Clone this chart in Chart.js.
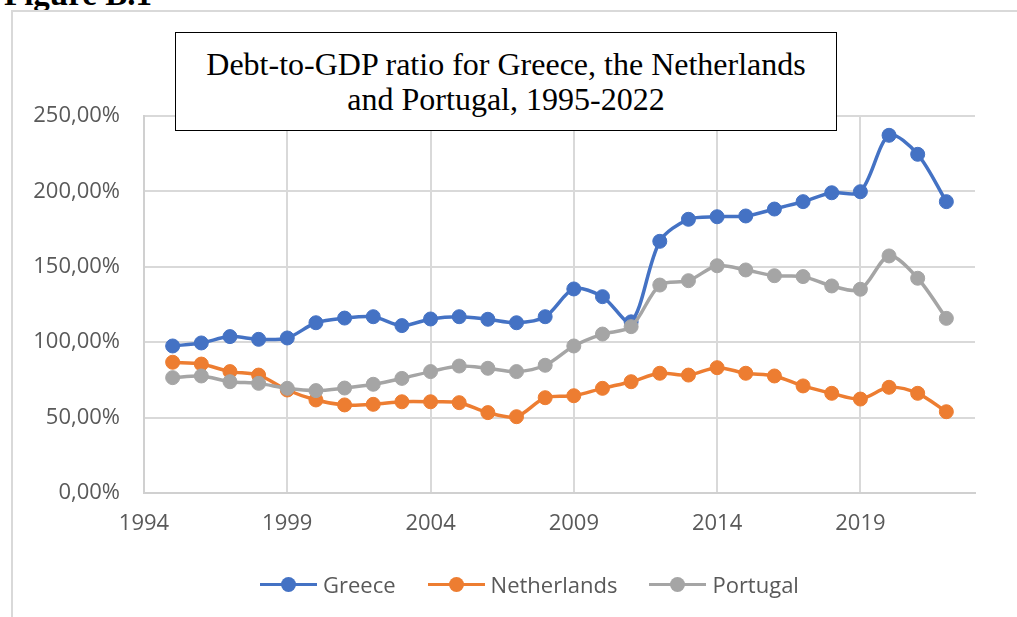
<!DOCTYPE html>
<html>
<head>
<meta charset="utf-8">
<script src="https://cdn.jsdelivr.net/npm/chart.js@4.4.1/dist/chart.umd.min.js"></script>
<style>
  html, body { margin: 0; padding: 0; background: #fff; }
  body { width: 1017px; height: 617px; position: relative; overflow: hidden; }
  #figureLabel {
    position: absolute; left: 4px; top: -22px;
    font: bold 33px/1 "Liberation Serif", "Times New Roman", serif; color: #000;
  }
  #frame {
    position: absolute; left: 11px; top: 10px; width: 1100px; height: 700px;
    border-left: 2px solid #d9d9d9; border-top: 2px solid #d9d9d9;
  }
  #debtChart { position: absolute; left: 0; top: 0; }
  #titleBox {
    position: absolute; left: 175px; top: 32px; width: 660px; height: 97px;
    border: 1px solid #000; background: #fff;
    display: flex; align-items: center; justify-content: center; text-align: center;
    font: 32px/35px "Liberation Serif", "Times New Roman", serif; color: #000;
  }
  #legend {
    position: absolute; left: 260px; top: 569px; height: 30px;
    display: flex; align-items: center;
    font: 22px "Open Sans", sans-serif; color: #595959;
  }
  .legend-item { display: flex; align-items: center; margin-right: 32px; }
  .legend-mark { position: relative; width: 57px; height: 15px; margin-right: 6px; }
  .legend-mark .line { position: absolute; left: 0; right: 0; top: 6px; height: 3.5px; }
  .legend-mark .dot { position: absolute; left: 21px; top: 0; width: 15px; height: 15px; border-radius: 50%; }
</style>
</head>
<body>
<div id="figureLabel">Figure B.1</div>
<div id="frame"></div>
<canvas id="debtChart" width="1017" height="617"></canvas>
<div id="titleBox">Debt-to-GDP ratio for Greece, the Netherlands<br>and Portugal, 1995-2022</div>
<div id="legend"></div>

<script>
// Debt as % of GDP, one value per year
const years = [1995, 1996, 1997, 1998, 1999, 2000, 2001, 2002, 2003, 2004,
               2005, 2006, 2007, 2008, 2009, 2010, 2011, 2012, 2013, 2014,
               2015, 2016, 2017, 2018, 2019, 2020, 2021, 2022];

const greece = [97.5, 99.5, 103.7, 101.9, 102.8, 112.9, 116.0, 116.9, 111.0, 115.4,
                116.9, 115.2, 112.9, 116.9, 135.3, 130.2, 113.5, 166.9, 181.5, 183.2,
                183.7, 188.3, 193.2, 199.1, 199.8, 237.2, 224.6, 193.2];

const netherlands = [86.7, 85.5, 80.5, 78.2, 68.3, 61.7, 58.4, 58.8, 60.5, 60.5,
                     59.9, 53.3, 50.6, 63.2, 64.5, 69.4, 73.8, 79.4, 78.2, 83.1,
                     79.4, 77.6, 71.0, 66.1, 62.3, 70.1, 66.1, 53.9];

const portugal = [76.5, 77.6, 73.8, 72.7, 69.4, 67.9, 69.6, 72.1, 76.0, 80.5,
                  84.2, 82.7, 80.5, 84.7, 97.5, 105.4, 110.3, 137.9, 140.8, 150.7,
                  147.9, 144.1, 143.5, 137.3, 135.1, 157.2, 142.4, 115.8];

// Axis ticks
const yearTicks = [1994, 1999, 2004, 2009, 2014, 2019];
const yearMin = 1994;
const yearMax = 2023;
const pctTicks = [0, 50, 100, 150, 200, 250];

const series = [
    { label: 'Greece', values: greece, color: '#4472C4', order: 2 },
    { label: 'Netherlands', values: netherlands, color: '#ED7D31', order: 1 },
    { label: 'Portugal', values: portugal, color: '#A5A5A5', order: 0 }
];

const tickFont = { family: '"Open Sans", sans-serif', size: 22 };
const gridColor = '#d9d9d9';

const datasets = series.map(s => ({
    label: s.label,
    data: years.map((yr, i) => ({ x: yr, y: s.values[i] })),
    borderColor: s.color,
    backgroundColor: s.color,
    pointBackgroundColor: s.color,
    pointBorderColor: s.color,
    borderWidth: 3.5,
    pointRadius: 7,
    pointBorderWidth: 1,
    tension: 0.3,
    order: s.order
}));

const ctx = document.getElementById('debtChart').getContext('2d');
const debtChart = new Chart(ctx, {
    type: 'line',
    data: { datasets: datasets },
    options: {
        responsive: false,
        animation: false,
        devicePixelRatio: 1,
        layout: { padding: { left: 0, top: 116, right: 42, bottom: 84 } },
        plugins: {
            legend: { display: false },
            tooltip: { enabled: false }
        },
        scales: {
            x: {
                type: 'linear',
                min: yearMin,
                max: yearMax,
                afterBuildTicks: scale => {
                    scale.ticks = yearTicks.map(v => ({ value: v }));
                },
                afterFit: scale => {
                    scale.height = 40;
                    scale.paddingLeft = 0;
                    scale.paddingRight = 0;
                },
                ticks: {
                    font: tickFont,
                    color: '#595959',
                    padding: 18,
                    maxRotation: 0,
                    autoSkip: false,
                    callback: v => String(v)
                },
                grid: { color: gridColor, lineWidth: 2, drawTicks: false },
                border: { color: '#d0d0d0', width: 2 }
            },
            y: {
                min: 0,
                max: 250,
                afterBuildTicks: scale => {
                    scale.ticks = pctTicks.map(v => ({ value: v }));
                },
                afterFit: scale => {
                    scale.width = 144;
                    scale.paddingTop = 0;
                    scale.paddingBottom = 0;
                },
                ticks: {
                    font: tickFont,
                    color: '#595959',
                    padding: 24,
                    callback: v => v.toFixed(2).replace('.', ',') + '%'
                },
                grid: { color: gridColor, lineWidth: 2, drawTicks: false },
                border: { color: '#d0d0d0', width: 2 }
            }
        }
    }
});

// Legend built from the chart's datasets
const legendEl = document.getElementById('legend');
debtChart.data.datasets.forEach(ds => {
    const item = document.createElement('div');
    item.className = 'legend-item';
    item.innerHTML = '<span class="legend-mark"><span class="line"></span><span class="dot"></span></span>';
    item.querySelector('.line').style.background = ds.borderColor;
    item.querySelector('.dot').style.background = ds.borderColor;
    const text = document.createElement('span');
    text.innerText = ds.label;
    item.appendChild(text);
    legendEl.appendChild(item);
});
</script>
</body>
</html>
